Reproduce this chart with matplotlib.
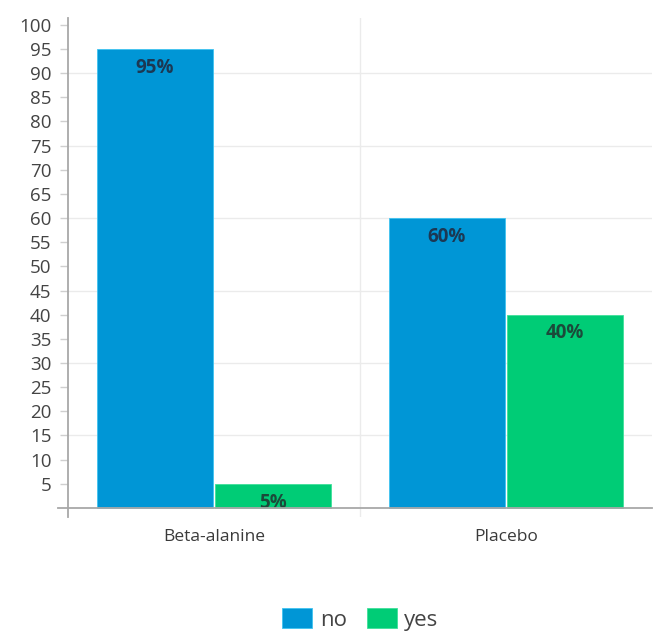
import matplotlib.pyplot as plt
import numpy as np

# --- Chart data ---
categories = ["Beta-alanine", "Placebo"]
series_names = ["no", "yes"]
no_values = [95, 60]
yes_values = [5, 40]

# --- Style ---
BLUE = "#0096d6"
GREEN = "#00cc76"
LABEL_COLORS = ["#1c3853", "#1b4a3a"]

plt.rcParams['font.family'] = ['Open Sans', 'DejaVu Sans']

fig = plt.figure(figsize=(6.55, 6.32), dpi=100)
ax = fig.add_axes([0.1038, 0.1825, 0.8912, 0.789])

x = np.arange(len(categories))
width = 0.397
offset = 0.2015

bars_no = ax.bar(x - offset, no_values, width, color=BLUE, edgecolor="#3fc3f0", linewidth=0.6, label=series_names[0], zorder=3)
bars_yes = ax.bar(x + offset, yes_values, width, color=GREEN, edgecolor="#3fe09a", linewidth=0.6, label=series_names[1], zorder=3)

# Value labels just inside the top of each bar
for bars, col in zip([bars_no, bars_yes], LABEL_COLORS):
    for b in bars:
        h = b.get_height()
        ax.annotate(f"{h:.0f}%", (b.get_x() + b.get_width() / 2, h),
                    xytext=(0, -13.5), textcoords="offset points",
                    ha="center", va="center", fontsize=13.5, fontweight="bold", color=col, zorder=4)

ax.set_xlim(-0.5, 1.5)
ax.set_ylim(-1.8, 101.4)

# Grid: faint horizontals every 15, vertical between the groups
for gy in range(15, 100, 15):
    ax.axhline(gy, color="#ebebeb", linewidth=1, zorder=0)
ax.axvline(0.5, color="#ebebeb", linewidth=1, zorder=0)

ax.set_yticks(range(5, 101, 5))
ax.tick_params(axis="y", length=6, width=1, color="#cfcfcf", labelsize=13.5, labelcolor="#444444", pad=6)
ax.set_xticks(x)
ax.set_xticklabels(categories)
ax.tick_params(axis="x", length=0, labelsize=12.5, labelcolor="#3a3a3a", pad=9)

for side in ["top", "right", "bottom"]:
    ax.spines[side].set_visible(False)
ax.spines["left"].set_color("#a8a8a8")
ax.spines["left"].set_linewidth(1.3)

# X axis line at zero, overhanging the y axis a little
ax.plot([-0.535, 1.5], [0, 0], color="#a8a8a8", linewidth=1.3, clip_on=False, zorder=5)

fig.legend(handles=[bars_no, bars_yes], labels=series_names, loc="center",
           bbox_to_anchor=(0.55, 0.02), ncol=2, frameon=False, fontsize=16,
           handlelength=1.35, handleheight=1.0, handletextpad=0.35, columnspacing=0.9,
           labelcolor="#444444", borderpad=0.1)

fig.savefig("out.png", dpi=100)
